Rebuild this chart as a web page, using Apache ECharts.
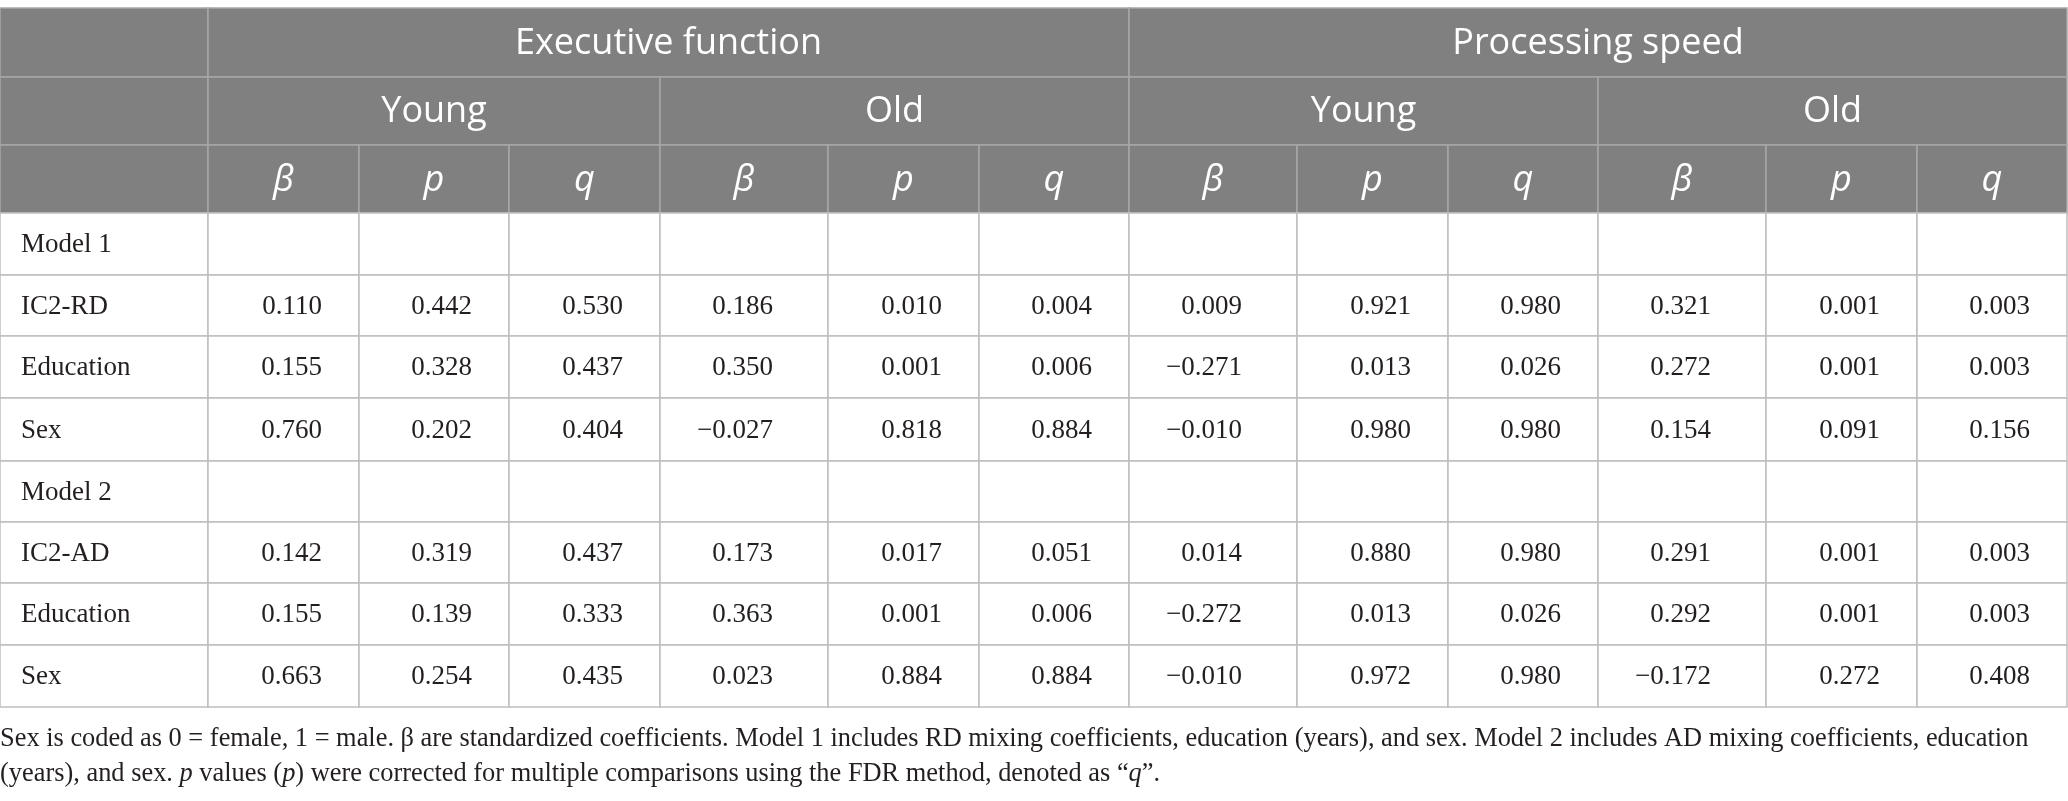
<!DOCTYPE html>
<html>
<head>
<meta charset="utf-8">
<script src="https://cdn.jsdelivr.net/npm/echarts@6/dist/echarts.min.js"></script>
<style>
html, body { margin: 0; padding: 0; background: #fff; }
#main { width: 2068px; height: 801px; }
</style>
</head>
<body>
<div id="main"></div>
<script>
// 表头
var domains = ['Executive function', 'Processing speed'];
var ageGroups = ['Young', 'Old'];
var stats = ['β', 'p', 'q'];

// 行标签
var rowLabels = ['Model 1', 'IC2-RD', 'Education', 'Sex', 'Model 2', 'IC2-AD', 'Education', 'Sex'];

// 每行数值: EF young (β p q), EF old, PS young, PS old
var model1 = null;
var ic2rd = [0.110, 0.442, 0.530, 0.186, 0.010, 0.004, 0.009, 0.921, 0.980, 0.321, 0.001, 0.003];
var education1 = [0.155, 0.328, 0.437, 0.350, 0.001, 0.006, -0.271, 0.013, 0.026, 0.272, 0.001, 0.003];
var sex1 = [0.760, 0.202, 0.404, -0.027, 0.818, 0.884, -0.010, 0.980, 0.980, 0.154, 0.091, 0.156];
var model2 = null;
var ic2ad = [0.142, 0.319, 0.437, 0.173, 0.017, 0.051, 0.014, 0.880, 0.980, 0.291, 0.001, 0.003];
var education2 = [0.155, 0.139, 0.333, 0.363, 0.001, 0.006, -0.272, 0.013, 0.026, 0.292, 0.001, 0.003];
var sex2 = [0.663, 0.254, 0.435, 0.023, 0.884, 0.884, -0.010, 0.972, 0.980, -0.172, 0.272, 0.408];
var rowValues = [model1, ic2rd, education1, sex1, model2, ic2ad, education2, sex2];

// 布局 (像素坐标, 轴单位)
var colEdges = [0, 208, 359, 509, 660, 828, 979, 1129, 1297, 1448, 1598, 1766, 1917, 2067];
var rowEdges = [8, 77, 145, 213, 275, 336, 398, 461, 522, 583, 645, 707];

var HEAD_BG = '#808080';
var HEAD_LINE = '#a6a6a6';
var BODY_LINE = '#bfbfbf';
var TEXT = '#231f20';
var SANS = '"Open Sans", "Noto Sans", sans-serif';
var SERIF = '"Liberation Serif", "DejaVu Serif", serif';

function fmt(v) {
	var s = Math.abs(v).toFixed(3);
	return v < 0 ? '\u2212' + s : s;
}

// 组装单元格
var cells = [];
// 第一行表头
cells.push({ x0: 0, x1: 1, y: 0, text: '', kind: 'head' });
cells.push({ x0: 1, x1: 7, y: 0, text: domains[0], kind: 'head' });
cells.push({ x0: 7, x1: 13, y: 0, text: domains[1], kind: 'head' });
// 第二行表头
cells.push({ x0: 0, x1: 1, y: 1, text: '', kind: 'head' });
for (var d = 0; d < 2; d++) {
	for (var a = 0; a < 2; a++) {
		var s0 = 1 + d * 6 + a * 3;
		cells.push({ x0: s0, x1: s0 + 3, y: 1, text: ageGroups[a], kind: 'head' });
	}
}
// 第三行表头
cells.push({ x0: 0, x1: 1, y: 2, text: '', kind: 'head' });
for (var c = 0; c < 12; c++) {
	cells.push({ x0: c + 1, x1: c + 2, y: 2, text: stats[c % 3], kind: 'stat' });
}
// 表体
for (var r = 0; r < rowLabels.length; r++) {
	cells.push({ x0: 0, x1: 1, y: r + 3, text: rowLabels[r], kind: 'label' });
	for (var k = 0; k < 12; k++) {
		var vals = rowValues[r];
		cells.push({ x0: k + 1, x1: k + 2, y: r + 3, text: vals ? fmt(vals[k]) : '', kind: 'num' });
	}
}

var cellData = cells.map(function (cl) {
	return [colEdges[cl.x0], rowEdges[cl.y], colEdges[cl.x1], rowEdges[cl.y + 1]];
});

function renderCell(params, api) {
	var cl = cells[params.dataIndex];
	var p0 = api.coord([api.value(0), api.value(1)]);
	var p1 = api.coord([api.value(2), api.value(3)]);
	var isHead = cl.kind === 'head' || cl.kind === 'stat';
	var children = [{
		type: 'rect',
		shape: { x: p0[0], y: p0[1], width: p1[0] - p0[0], height: p1[1] - p0[1] },
		style: { fill: isHead ? HEAD_BG : '#fff', stroke: isHead ? HEAD_LINE : BODY_LINE, lineWidth: 1.5 }
	}];
	if (cl.text) {
		var midY = (p0[1] + p1[1]) / 2;
		var st;
		if (cl.kind === 'head') {
			st = { x: (p0[0] + p1[0]) / 2, y: midY + 1, text: cl.text, fill: '#fff', font: '36px ' + SANS, align: 'center', verticalAlign: 'middle' };
		} else if (cl.kind === 'stat') {
			st = { x: (p0[0] + p1[0]) / 2, y: midY + 2, text: cl.text, fill: '#fff', font: 'italic 36px ' + SANS, align: 'center', verticalAlign: 'middle' };
		} else if (cl.kind === 'label') {
			st = { x: p0[0] + 21, y: midY + 1, text: cl.text, fill: TEXT, font: '27px ' + SERIF, align: 'left', verticalAlign: 'middle' };
		} else {
			var pad = (p1[0] - p0[0]) > 160 ? 55 : 37;
			st = { x: p1[0] - pad, y: midY + 1, text: cl.text, fill: TEXT, font: '27px ' + SERIF, align: 'right', verticalAlign: 'middle' };
		}
		children.push({ type: 'text', style: st, z2: 10 });
	}
	return { type: 'group', children: children };
}

var myChart = echarts.init(document.getElementById('main'));
var option = {
	animation: false,
	grid: { left: 0, top: 8, width: 2067, height: 699 },
	xAxis: { type: 'value', min: 0, max: 2067, show: false },
	yAxis: { type: 'value', min: 8, max: 707, inverse: true, show: false },
	title: {
		left: 0,
		top: 722,
		padding: 0,
		text: 'Sex is coded as 0 = female, 1 = male. β are standardized coefficients. Model 1 includes RD mixing coefficients, education (years), and sex. Model 2 includes AD mixing coefficients, education\n' +
			'(years), and sex. {i|p} values ({i|p}) were corrected for multiple comparisons using the FDR method, denoted as “{i|q}”.',
		textStyle: {
			fontFamily: SERIF,
			fontSize: 26.4,
			fontWeight: 'normal',
			color: TEXT,
			lineHeight: 35,
			rich: {
				i: { fontFamily: SERIF, fontSize: 26.4, fontStyle: 'italic', color: TEXT, lineHeight: 35 }
			}
		}
	},
	series: [{
		type: 'custom',
		renderItem: renderCell,
		data: cellData,
		encode: { x: [0, 2], y: [1, 3] },
		clip: false
	}]
};
myChart.setOption(option);
</script>
</body>
</html>
